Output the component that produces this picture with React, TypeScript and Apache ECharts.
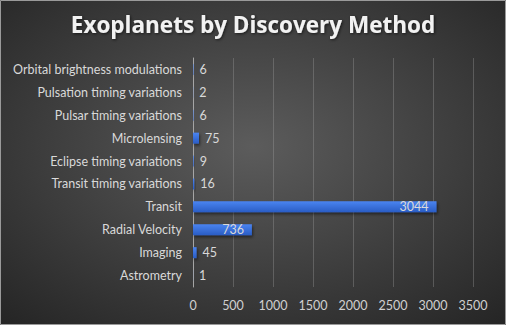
import React, { useEffect, useRef } from "react";
import * as echarts from "echarts";

const categories = [
  "Astrometry",
  "Imaging",
  "Radial Velocity",
  "Transit",
  "Transit timing variations",
  "Eclipse timing variations",
  "Microlensing",
  "Pulsar timing variations",
  "Pulsation timing variations",
  "Orbital brightness modulations",
];
const values = [1, 45, 736, 3044, 16, 9, 75, 6, 2, 6];
const insideLabelThreshold = 500;

export default function App() {
  const ref = useRef<HTMLDivElement>(null);
  useEffect(() => {
    document.body.style.margin = "0";
    const chart = echarts.init(ref.current!, null, { renderer: "svg" });
    const font = "Lato, 'Open Sans', sans-serif";
    chart.setOption({
      animation: false,
      backgroundColor: {
        type: "radial",
        x: 0.5,
        y: 0.45,
        r: 0.75,
        colorStops: [
          { offset: 0, color: "#5c5c5c" },
          { offset: 1, color: "#242424" },
        ],
      },
      title: {
        text: "Exoplanets by Discovery Method",
        left: "center",
        top: 8,
        textStyle: {
          color: "#f2f2f2",
          fontSize: 22.5,
          fontWeight: "bold",
          fontFamily: "'Open Sans', sans-serif",
          textShadowColor: "rgba(0,0,0,0.6)",
          textShadowBlur: 3,
          textShadowOffsetX: 1,
          textShadowOffsetY: 1,
        },
      },
      graphic: [
        {
          type: "rect",
          shape: { x: 0.5, y: 0.5, width: 505, height: 324 },
          style: { fill: "none", stroke: "#9a9a9a", lineWidth: 1 },
          silent: true,
        },
      ],
      grid: { left: 193, right: 33, top: 58, bottom: 38, containLabel: false },
      xAxis: {
        type: "value",
        min: 0,
        max: 3500,
        interval: 500,
        axisLine: { show: false },
        axisTick: { show: false },
        splitLine: { lineStyle: { color: "rgba(160,160,160,0.35)", width: 1 } },
        axisLabel: {
          color: "#d0d0d0",
          fontSize: 12.5,
          fontFamily: font,
          margin: 12,
          formatter: (v: number) => String(v),
        },
      },
      yAxis: {
        type: "category",
        data: categories,
        axisLine: { show: true, lineStyle: { color: "#a6a6a6", width: 1 } },
        axisTick: { show: false },
        axisLabel: { color: "#d9d9d9", fontSize: 12.5, fontFamily: font, margin: 11 },
      },
      series: [
        {
          type: "bar",
          data: values.map((v) => ({
            value: v,
            label: {
              position: v > insideLabelThreshold ? "insideRight" : "right",
              distance: v > insideLabelThreshold ? 8 : 6,
            },
          })),
          barWidth: 11,
          itemStyle: {
            color: {
              type: "linear",
              x: 0,
              y: 0,
              x2: 0,
              y2: 1,
              colorStops: [
                { offset: 0, color: "#4a84f0" },
                { offset: 1, color: "#2a5cc4" },
              ],
            },
            shadowColor: "rgba(0,0,0,0.5)",
            shadowBlur: 3,
            shadowOffsetX: 1,
            shadowOffsetY: 2,
          },
          label: {
            show: true,
            color: "#d9d9d9",
            fontSize: 12.5,
            fontFamily: font,
            formatter: (p: any) => String(p.value),
          },
        },
      ],
    });
    return () => chart.dispose();
  }, []);
  return <div ref={ref} style={{ width: 506, height: 325 }} />;
}
